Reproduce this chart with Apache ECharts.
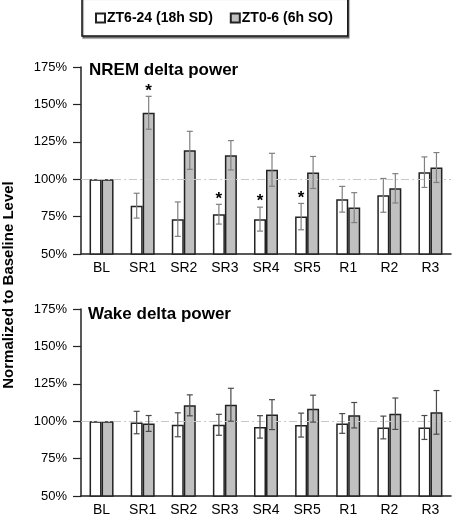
<!DOCTYPE html>
<html><head><meta charset="utf-8">
<script src="https://cdn.jsdelivr.net/npm/echarts@6/dist/echarts.min.js"></script>
<style>html,body{margin:0;padding:0;background:#fff}#c{width:454px;height:517px}</style>
</head><body><div id="c"></div>
<script>
var categories = ['BL','SR1','SR2','SR3','SR4','SR5','R1','R2','R3'];
var yTicks = [50,75,100,125,150,175];
var seriesNames = ['ZT6-24 (18h SD)','ZT0-6 (6h SO)'];
var nremSD = [100, 82.3, 73.3, 76.6, 73.3, 75.0, 86.6, 89.2, 104.7];
var nremSDerr = [0, 8.3, 11.5, 6.6, 8.0, 8.8, 8.6, 11.3, 10.2];
var nremSDstar = [0, 0, 0, 1, 1, 1, 0, 0, 0];
var nremSO = [100, 144.4, 119.3, 116.0, 106.3, 104.5, 81.0, 93.9, 107.8];
var nremSOerr = [0, 11.0, 12.7, 9.8, 11.0, 10.7, 10.0, 9.8, 10.0];
var nremSOstar = [0, 1, 0, 0, 0, 0, 0, 0, 0];
var wakeSD = [100, 99.1, 97.6, 97.6, 96.2, 97.4, 98.5, 95.8, 95.8];
var wakeSDerr = [0, 7.5, 8.0, 7.0, 7.5, 8.0, 6.6, 7.6, 8.0];
var wakeSO = [100, 98.5, 110.6, 111.0, 104.4, 108.4, 104.0, 105.0, 105.9];
var wakeSOerr = [0, 5.3, 7.0, 11.0, 10.0, 9.0, 8.5, 10.5, 14.6];
var noStar = [0,0,0,0,0,0,0,0,0];

var FONT = '"Liberation Sans", Arial, sans-serif';
var chart = echarts.init(document.getElementById('c'));

function errData(vals, errs, stars){
  return vals.map(function(v,i){ return [i, v, errs[i], stars[i]]; });
}
function errRender(offset, color){
  return function(params, api){
    var i = api.value(0), v = api.value(1), e = api.value(2), s = api.value(3);
    var children = [];
    var center = api.coord([i, v]);
    var cx = center[0] + offset;
    var topY = api.coord([i, v + e])[1];
    if (e > 0) {
      var botY = api.coord([i, v - e])[1];
      var cap = 3;
      var st = {stroke: color, lineWidth: 1.2};
      children.push({type:'line', shape:{x1:cx,y1:topY,x2:cx,y2:botY}, style:st});
      children.push({type:'line', shape:{x1:cx-cap,y1:topY,x2:cx+cap,y2:topY}, style:st});
      children.push({type:'line', shape:{x1:cx-cap,y1:botY,x2:cx+cap,y2:botY}, style:st});
    }
    if (s) {
      children.push({type:'text', x:cx, y:topY+3, style:{text:'*', fill:'#000', font:'bold 17px '+FONT, align:'center', verticalAlign:'bottom'}});
    }
    return {type:'group', children:children};
  };
}

function xAxisDef(gi){
  return {type:'category', gridIndex:gi, data:categories,
    axisLine:{lineStyle:{color:'#222', width:1.5}},
    axisTick:{length:5, lineStyle:{color:'#222', width:1.2}},
    axisLabel:{color:'#000', fontSize:14, fontFamily:FONT, margin:7}};
}
function yAxisDef(gi){
  return {type:'value', gridIndex:gi, min:50, max:175, interval:25,
    axisLine:{show:true, lineStyle:{color:'#222', width:1.5}},
    axisTick:{show:true, length:8, lineStyle:{color:'#222', width:1.2}},
    splitLine:{show:false},
    axisLabel:{color:'#000', fontSize:13, fontFamily:FONT, margin:14, formatter:function(v){return v+'%';}}};
}
function barSeries(name, gi, data, fill, withLine){
  var s = {name:name, type:'bar', xAxisIndex:gi, yAxisIndex:gi, data:data,
    barWidth:12, barGap:'0%',
    itemStyle:{color:fill, borderColor:'#222', borderWidth:1.5}};
  if (withLine) {
    s.markLine = {silent:true, symbol:'none', label:{show:false},
      lineStyle:{color:'#c8c8c8', type:[8,3,2,3], width:1.2},
      data:[{yAxis:100}]};
  }
  return s;
}
function errSeries(gi, vals, errs, stars, offset, color){
  return {type:'custom', xAxisIndex:gi, yAxisIndex:gi, data:errData(vals, errs, stars),
    renderItem:errRender(offset, color), z:5, silent:true};
}

var option = {
  animation:false,
  legend:{left:82, top:-3, data:seriesNames, orient:'horizontal',
    padding:[14,15,11,13], itemGap:17, itemWidth:9, itemHeight:9, icon:'rect',
    borderColor:'#111', borderWidth:1.5, backgroundColor:'#fff',
    shadowColor:'rgba(0,0,0,0.4)', shadowOffsetX:1, shadowOffsetY:2, shadowBlur:1,
    textStyle:{fontSize:14, fontWeight:'bold', color:'#000', fontFamily:FONT, padding:[0,0,0,-3]}},
  grid:[
    {left:81, right:3, top:67, height:187},
    {left:81, right:3, top:309, height:189}
  ],
  xAxis:[xAxisDef(0), xAxisDef(1)],
  yAxis:[yAxisDef(0), yAxisDef(1)],
  series:[
    barSeries(seriesNames[0], 0, nremSD, '#ffffff', true),
    barSeries(seriesNames[1], 0, nremSO, '#c0c0c0', false),
    barSeries(seriesNames[0], 1, wakeSD, '#ffffff', true),
    barSeries(seriesNames[1], 1, wakeSO, '#c0c0c0', false),
    errSeries(0, nremSD, nremSDerr, nremSDstar, -6, '#808080'),
    errSeries(0, nremSO, nremSOerr, nremSOstar, 6, '#808080'),
    errSeries(1, wakeSD, wakeSDerr, noStar, -6, '#4a4a4a'),
    errSeries(1, wakeSO, wakeSOerr, noStar, 6, '#4a4a4a')
  ],
  graphic:[
    {type:'text', left:89, top:62, style:{text:'NREM delta power', font:'bold 17px '+FONT, fill:'#000'}},
    {type:'text', left:88, top:306, style:{text:'Wake delta power', font:'bold 17px '+FONT, fill:'#000'}},
    {type:'text', x:9, y:285, rotation:Math.PI/2, style:{text:'Normalized to Baseline Level', font:'bold 15px '+FONT, fill:'#000', align:'center', verticalAlign:'middle'}}
  ]
};
chart.setOption(option);
</script>
</body></html>
